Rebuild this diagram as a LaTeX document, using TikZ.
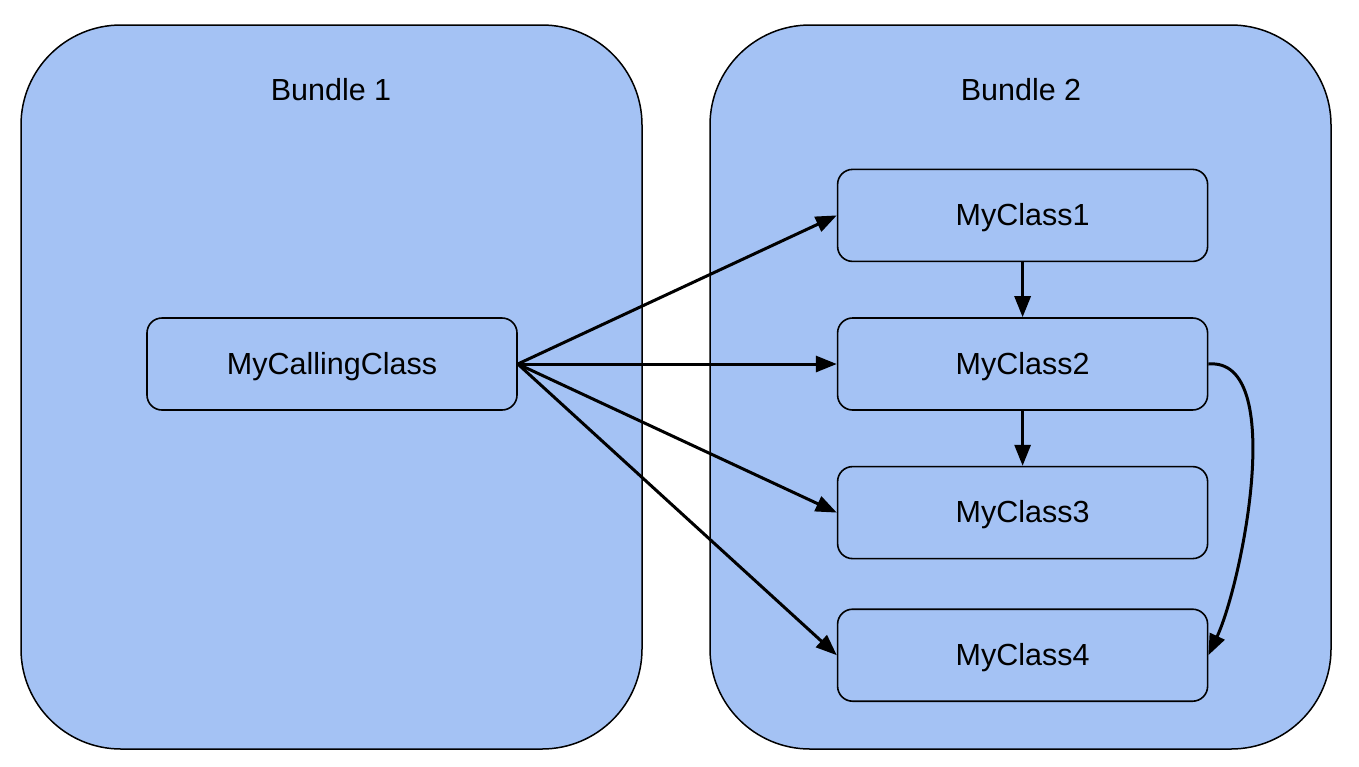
\documentclass[tikz,border=0pt]{standalone}
\usepackage{fontspec}
\setmainfont{Liberation Sans}
\usetikzlibrary{positioning,arrows.meta}
\definecolor{bundleblue}{HTML}{A4C2F4}

\tikzset{
  bundle/.style={draw, fill=bundleblue, line width=1.5pt, rounded corners=100pt,
    minimum width=621pt, minimum height=724pt},
  classbox/.style={draw, fill=bundleblue, line width=1.6pt, rounded corners=15pt,
    minimum width=370pt, minimum height=92pt, text height=22pt, text depth=2pt,
    font=\fontsize{30.5}{36}\selectfont},
  call/.style={line width=3pt, -{Triangle[length=21pt,width=16pt]}},
}

\begin{document}
\begin{tikzpicture}[x=1pt,y=-1pt]
\useasboundingbox (0,0) rectangle (1359,766);
% bundles
\node[bundle](b1) at (331.5,387){};
\node[bundle](b2) at (1020.5,387){};
\node[font=\fontsize{30.5}{36}\selectfont](l1) at (331,90){Bundle 1};
\node[font=\fontsize{30.5}{36}\selectfont](l2) at (1021,90){Bundle 2};
% classes
\node[classbox](mcc) at (332,364){MyCallingClass};
\node[classbox, right=319pt of mcc](c2){MyClass2};
\node[classbox, above=55pt of c2](c1){MyClass1};
\node[classbox, below=55pt of c2](c3){MyClass3};
\node[classbox, below=49pt of c3](c4){MyClass4};
% calls
\draw[call] (mcc.east) -- (c1.west);
\draw[call] (mcc.east) -- (c2.west);
\draw[call] (mcc.east) -- (c3.west);
\draw[call] (mcc.east) -- (c4.west);
\draw[call] (c1) -- (c2);
\draw[call] (c2) -- (c3);
\draw[call] (c2.east) to[out=5, in=65, looseness=0.7] (c4.east);
\end{tikzpicture}
\end{document}
